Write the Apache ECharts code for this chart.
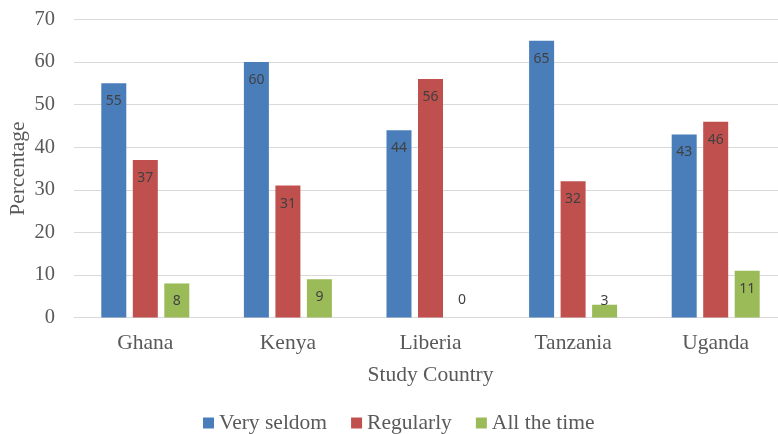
<!DOCTYPE html>
<html>
<head>
<meta charset="utf-8">
<script src="https://cdn.jsdelivr.net/npm/echarts@6/dist/echarts.min.js"></script>
<style>html,body{margin:0;padding:0;background:#fff}#c{width:778px;height:434px}</style>
</head>
<body>
<div id="c"></div>
<script>
const categories = ['Ghana', 'Kenya', 'Liberia', 'Tanzania', 'Uganda'];
const seriesNames = ['Very seldom', 'Regularly', 'All the time'];
const verySeldom = [55, 60, 44, 65, 43];
const regularly = [37, 31, 56, 32, 46];
const allTheTime = [8, 9, 0, 3, 11];
const yTicks = [0, 10, 20, 30, 40, 50, 60, 70];

const colors = ['#4a7ebb', '#c0504d', '#9bbb59'];
const serif = '"Liberation Serif", "DejaVu Serif", serif';
const sans = '"Noto Sans", "DejaVu Sans", sans-serif';

function mkData(arr) {
  return arr.map(v => {
    if (v < 5) {
      return { value: v, label: { position: 'top', distance: v === 0 ? 10 : -3 } };
    }
    return v;
  });
}

const baseLabel = {
  show: true, position: 'insideTop', distance: 11,
  color: '#404040', fontFamily: sans, fontSize: 14
};

const chart = echarts.init(document.getElementById('c'));
chart.setOption({
  animation: false,
  color: colors,
  grid: { left: 74, width: 713, top: 19.5, bottom: 116.5, containLabel: false, outerBoundsMode: 'none' },
  legend: {
    left: 198, top: 407, itemWidth: 11, itemHeight: 11, itemGap: 24,
    icon: 'rect',
    textStyle: { fontFamily: serif, fontSize: 21.5, color: '#595959' },
    data: seriesNames
  },
  xAxis: {
    type: 'category', data: categories,
    name: 'Study Country', nameLocation: 'middle', nameGap: 47, nameMoveOverlap: false,
    nameTextStyle: { fontFamily: serif, fontSize: 21.5, color: '#595959' },
    axisLine: { show: true, lineStyle: { color: '#d9d9d9', width: 1 } },
    axisTick: { show: false },
    axisLabel: { margin: 15, fontFamily: serif, fontSize: 21.5, color: '#595959' }
  },
  yAxis: {
    type: 'value', min: yTicks[0], max: yTicks[yTicks.length - 1], interval: 10,
    name: 'Percentage', nameLocation: 'middle', nameGap: 45, nameRotate: 90, nameMoveOverlap: false,
    nameTextStyle: { fontFamily: serif, fontSize: 21.5, color: '#595959' },
    axisLine: { show: false }, axisTick: { show: false },
    splitLine: { lineStyle: { color: '#d9d9d9', width: 1 } },
    axisLabel: { margin: 19, fontFamily: serif, fontSize: 20.5, color: '#595959' }
  },
  series: [
    { name: seriesNames[0], type: 'bar', data: mkData(verySeldom), barWidth: 25, barGap: '26%', label: baseLabel },
    { name: seriesNames[1], type: 'bar', data: mkData(regularly), barWidth: 25, barGap: '26%', label: baseLabel },
    { name: seriesNames[2], type: 'bar', data: mkData(allTheTime), barWidth: 25, barGap: '26%', label: baseLabel }
  ]
});
</script>
</body>
</html>
